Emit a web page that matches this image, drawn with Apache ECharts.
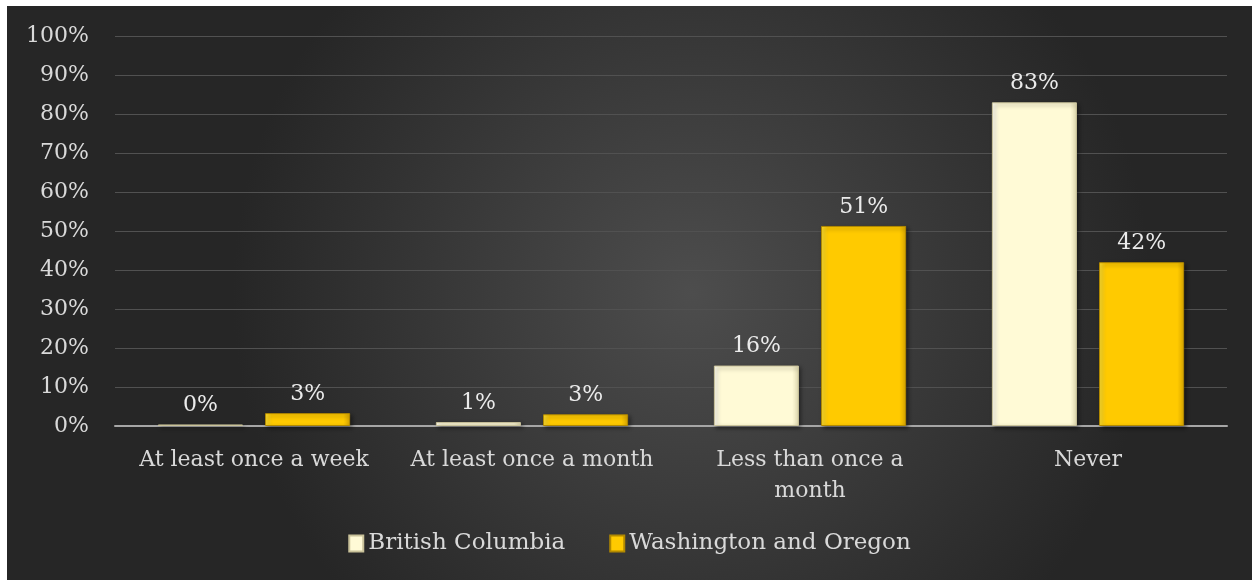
<!DOCTYPE html>
<html>
<head>
<meta charset="utf-8">
<script src="https://cdn.jsdelivr.net/npm/echarts@6/dist/echarts.min.js"></script>
<style>
  html, body { margin: 0; padding: 0; background: #ffffff; width: 1252px; height: 580px; overflow: hidden; }
  #chart { position: absolute; left: 7px; top: 6px; width: 1245px; height: 574px; }
</style>
</head>
<body>
<div id="chart"></div>
<script>
const categories = ['At least once a week', 'At least once a month', 'Less than once a month', 'Never'];
const seriesNames = ['British Columbia', 'Washington and Oregon'];
const bcValues = [0.4, 1, 15.5, 83];
const waValues = [3.3, 3, 51.3, 42];
const yTicks = [0, 10, 20, 30, 40, 50, 60, 70, 80, 90, 100];

const FONT = 'DejaVu Serif';
const TEXT = '#d9d9d9';

const chart = echarts.init(document.getElementById('chart'));

function bevel(light, base, dark) {
  return new echarts.graphic.LinearGradient(0, 0, 1, 0, [
    { offset: 0, color: light },
    { offset: 0.08, color: base },
    { offset: 0.92, color: base },
    { offset: 1, color: dark }
  ]);
}

const labelCfg = {
  show: true,
  position: 'top',
  distance: 8,
  color: '#ebebeb',
  fontFamily: FONT,
  fontSize: 22,
  formatter: p => Math.round(p.value) + '%'
};

chart.setOption({
  backgroundColor: new echarts.graphic.RadialGradient(0.55, 0.5, 0.8, [
    { offset: 0, color: '#4d4d4d' },
    { offset: 1, color: '#262626' }
  ]),
  animation: false,
  grid: { left: 108, right: 25, top: 30, bottom: 154 },
  legend: {
    bottom: 20,
    left: 'center',
    icon: 'rect',
    itemWidth: 14,
    itemHeight: 16,
    itemGap: 44,
    textStyle: { color: TEXT, fontFamily: FONT, fontSize: 23 },
    data: seriesNames
  },
  xAxis: {
    type: 'category',
    data: categories,
    axisTick: { show: false },
    axisLine: { lineStyle: { color: '#a6a6a6', width: 2 } },
    axisLabel: {
      color: TEXT,
      fontFamily: FONT,
      fontSize: 22,
      margin: 19,
      lineHeight: 31,
      interval: 0,
      formatter: v => v === 'Less than once a month' ? 'Less than once a\nmonth' : v
    }
  },
  yAxis: {
    type: 'value',
    min: 0,
    max: 100,
    interval: 10,
    axisLine: { show: false },
    axisTick: { show: false },
    splitLine: { lineStyle: { color: '#515151', width: 1 } },
    axisLabel: {
      color: TEXT,
      fontFamily: FONT,
      fontSize: 22,
      margin: 26,
      formatter: v => yTicks.includes(v) ? v + '%' : ''
    }
  },
  series: [
    {
      name: seriesNames[0],
      type: 'bar',
      data: bcValues,
      barWidth: '30.6%',
      barGap: '26%',
      itemStyle: {
        color: bevel('#fffdf0', '#fffad6', '#e0d9b0'),
        borderColor: '#c9c29a',
        borderWidth: 1,
        shadowColor: 'rgba(0,0,0,0.45)',
        shadowBlur: 4,
        shadowOffsetX: 2,
        shadowOffsetY: 2
      },
      label: labelCfg
    },
    {
      name: seriesNames[1],
      type: 'bar',
      data: waValues,
      barWidth: '30.6%',
      itemStyle: {
        color: bevel('#ffe033', '#ffca00', '#d9a600'),
        borderColor: '#b38a00',
        borderWidth: 1,
        shadowColor: 'rgba(0,0,0,0.45)',
        shadowBlur: 4,
        shadowOffsetX: 2,
        shadowOffsetY: 2
      },
      label: labelCfg
    }
  ]
});
</script>
</body>
</html>
